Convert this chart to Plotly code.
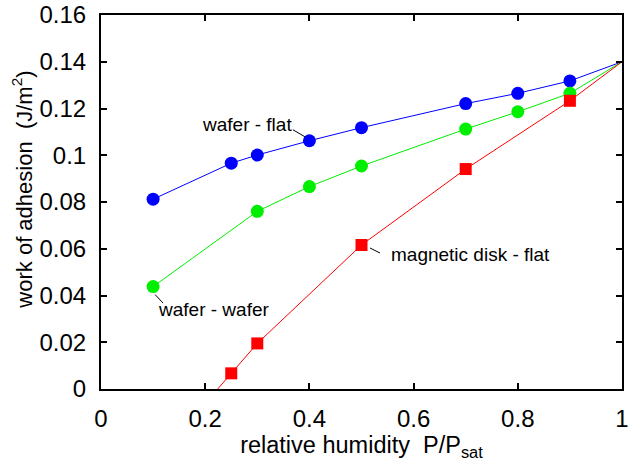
import plotly.graph_objects as go

# Data
flat_x = [0.1, 0.25, 0.3, 0.4, 0.5, 0.7, 0.8, 0.9, 1.0]
flat_y = [0.0812, 0.0966, 0.1001, 0.1062, 0.1118, 0.1221, 0.1265, 0.1318, 0.140]
flat_marker = [True, True, True, True, True, True, True, True, False]

wafer_x = [0.1, 0.3, 0.4, 0.5, 0.7, 0.8, 0.9, 1.0]
wafer_y = [0.0438, 0.0760, 0.0866, 0.0954, 0.1112, 0.1186, 0.1265, 0.140]
wafer_marker = [True, True, True, True, True, True, True, False]

disk_x = [0.224, 0.25, 0.3, 0.5, 0.7, 0.9, 1.0]
disk_y = [0.0, 0.0067, 0.0195, 0.0616, 0.0941, 0.1233, 0.140]
disk_marker = [False, True, True, True, True, True, False]

x_ticks = [0, 0.2, 0.4, 0.6, 0.8, 1.0]
x_ticklabels = ["0", "0.2", "0.4", "0.6", "0.8", "1"]
y_ticks = [0, 0.02, 0.04, 0.06, 0.08, 0.10, 0.12, 0.14, 0.16]
y_ticklabels = ["0", "0.02", "0.04", "0.06", "0.08", "0.1", "0.12", "0.14", "0.16"]

FONT = "Liberation Sans, Arial, sans-serif"

fig = go.Figure()

def add_series(xs, ys, mask, color, symbol, size):
    fig.add_trace(go.Scatter(x=xs, y=ys, mode="lines",
                             line=dict(color=color, width=1),
                             hoverinfo="skip", showlegend=False, cliponaxis=True))
    mx = [x for x, m in zip(xs, mask) if m]
    my = [y for y, m in zip(ys, mask) if m]
    fig.add_trace(go.Scatter(x=mx, y=my, mode="markers",
                             marker=dict(color=color, symbol=symbol, size=size,
                                         line=dict(width=0)),
                             showlegend=False, cliponaxis=False))

add_series(flat_x, flat_y, flat_marker, "#0000ff", "circle", 13)
add_series(wafer_x, wafer_y, wafer_marker, "#00ee00", "circle", 13)
add_series(disk_x, disk_y, disk_marker, "#ff0000", "square", 12)

def label(text, x, y, xs, ys):
    fig.add_annotation(x=x, y=y, xref="x", yref="y", text=text, showarrow=False,
                       xshift=xs, yshift=ys, font=dict(family=FONT, size=19, color="black"))

def leader(x, y, px0, py0, px1, py1):
    # short leader line, offsets in pixels from the anchor point (y up)
    fig.add_shape(type="line", xref="x", yref="y", xsizemode="pixel", ysizemode="pixel",
                  xanchor=x, yanchor=y, x0=px0, y0=py0, x1=px1, y1=py1,
                  line=dict(color="black", width=1))

label("wafer - flat", 0.4, 0.1062, -62, 16)
leader(0.4, 0.1062, -4.5, 4, -16.5, 11)
label("wafer - wafer", 0.1, 0.0438, 60, -23)
leader(0.1, 0.0438, 2, -8, 10, -16.5)
label("magnetic disk - flat", 0.5, 0.0616, 109, -9)
leader(0.5, 0.0616, 8.5, -3, 18.5, -8)

# y axis title as a rotated annotation for exact placement
fig.add_annotation(xref="paper", yref="paper", x=0, y=0.533, xshift=-79,
                   text="work of adhesion  (J/m<sup>2</sup>)", textangle=-90,
                   showarrow=False, xanchor="center", yanchor="middle",
                   font=dict(family=FONT, size=22, color="black"))

axis_common = dict(showline=True, linecolor="black", linewidth=2, mirror="ticks",
                   ticks="inside", ticklen=6, tickwidth=1.5, tickcolor="black",
                   showgrid=False, zeroline=False, ticklabeloverflow="allow",
                   tickfont=dict(family=FONT, size=24, color="black"))

fig.update_xaxes(range=[0, 1], tickvals=x_ticks, ticktext=x_ticklabels,
                 title=dict(text="relative humidity  P/P<sub>sat</sub>",
                            font=dict(family=FONT, size=23.5, color="black"), standoff=6),
                 ticklabelstandoff=7, **axis_common)
fig.update_yaxes(range=[0, 0.16], tickvals=y_ticks, ticktext=y_ticklabels,
                 ticklabelstandoff=8, **axis_common)

fig.update_layout(width=628, height=461,
                  margin=dict(l=101, r=6, t=15, b=72, autoexpand=False),
                  plot_bgcolor="white", paper_bgcolor="white",
                  font=dict(family=FONT, color="black"))

fig.write_html("out.html")
